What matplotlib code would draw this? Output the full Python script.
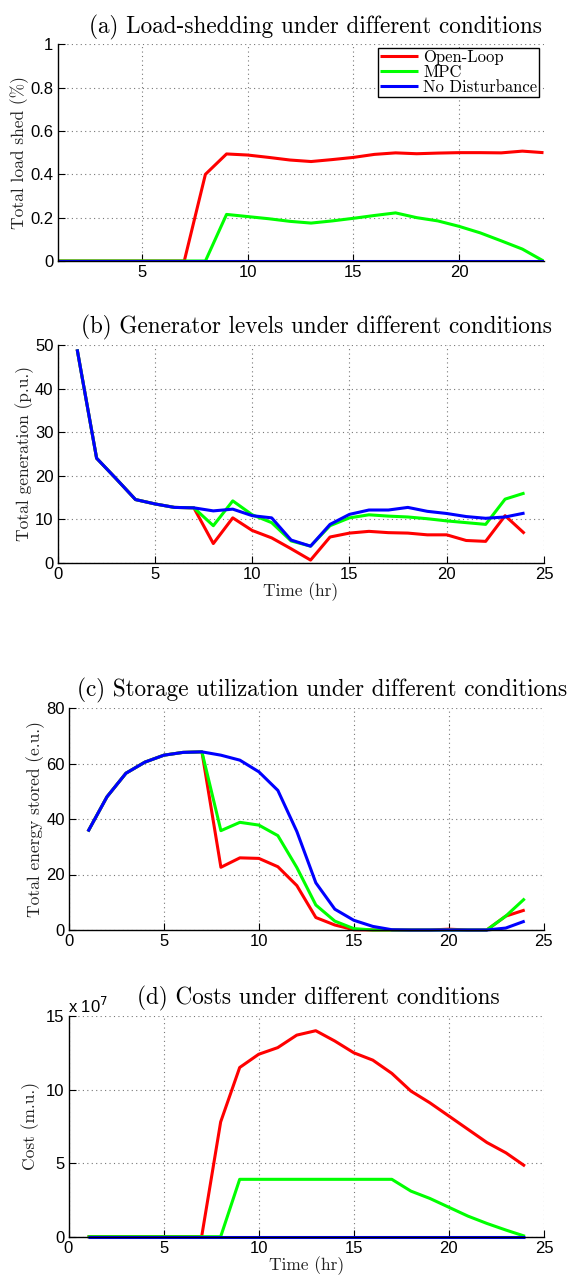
import matplotlib
matplotlib.use("Agg")
import matplotlib.pyplot as plt
import numpy as np

# ---------------- data ----------------
hours = list(range(1, 25))

# (a) load shed (%)
shed_open = [0, 0, 0, 0, 0, 0, 0, 0.40, 0.494, 0.489, 0.478, 0.466, 0.459, 0.468, 0.478,
             0.492, 0.499, 0.495, 0.498, 0.500, 0.500, 0.499, 0.507, 0.500]
shed_mpc = [0, 0, 0, 0, 0, 0, 0, 0, 0.215, 0.205, 0.195, 0.183, 0.175, 0.185, 0.197,
            0.210, 0.222, 0.200, 0.185, 0.160, 0.130, 0.093, 0.055, 0.0]
shed_nodist = [0] * 24

# (b) total generation (p.u.)
gen_open = [49.0, 24.0, 19.3, 14.5, 13.5, 12.7, 12.6, 4.4, 10.3, 7.4, 5.7, 3.2, 0.6, 5.9,
            6.8, 7.2, 6.9, 6.8, 6.4, 6.4, 5.1, 4.9, 10.8, 6.7]
gen_mpc = [49.0, 24.0, 19.3, 14.5, 13.5, 12.7, 12.6, 8.5, 14.2, 11.0, 9.2, 5.0, 3.8, 8.5,
           10.3, 11.0, 10.7, 10.5, 10.1, 9.6, 9.2, 8.8, 14.6, 16.0]
gen_nodist = [49.0, 24.0, 19.3, 14.5, 13.5, 12.7, 12.6, 11.9, 12.3, 10.8, 10.3, 5.2, 3.8,
              8.8, 11.1, 12.1, 12.1, 12.7, 11.8, 11.3, 10.6, 10.2, 10.5, 11.4]

# (c) total energy stored (e.u.)
sto_open = [35.5, 48.0, 56.5, 60.5, 63.0, 64.0, 64.2, 22.6, 26.0, 25.8, 22.8, 16.0, 4.5,
            1.8, 0.1, 0, 0, 0, 0, 0.3, 0, 0, 5.0, 7.2]
sto_mpc = [35.5, 48.0, 56.5, 60.5, 63.0, 64.0, 64.2, 35.8, 38.8, 37.8, 34.0, 22.5, 9.0,
           3.2, 0.5, 0, 0, 0, 0, 0, 0, 0, 5.0, 11.3]
sto_nodist = [35.5, 48.0, 56.5, 60.5, 63.0, 64.0, 64.2, 63.0, 61.2, 57.0, 50.3, 35.5, 17.0,
              7.5, 3.5, 1.3, 0.1, 0, 0, 0, 0, 0, 0.7, 3.2]

# (d) cost (m.u., in units of 1e7)
cost_open = [0, 0, 0, 0, 0, 0, 0, 7.8, 11.5, 12.4, 12.85, 13.7, 14.0, 13.3, 12.5, 12.0,
             11.1, 9.9, 9.1, 8.2, 7.3, 6.4, 5.7, 4.8]
cost_mpc = [0, 0, 0, 0, 0, 0, 0, 0, 3.9, 3.9, 3.9, 3.9, 3.9, 3.9, 3.9, 3.9, 3.9, 3.1, 2.6,
            2.0, 1.4, 0.9, 0.45, 0.03]
cost_nodist = [0] * 24

series_names = ["Open-Loop", "MPC", "No Disturbance"]
series_colors = ["#ff0000", "#00ff00", "#0000ff"]

titles = ["(a) Load-shedding under different conditions",
          "(b) Generator levels under different conditions",
          "(c) Storage utilization under different conditions",
          "(d) Costs under different conditions"]
ylabels = ["Total load shed (%)", "Total generation (p.u.)",
           "Total energy stored (e.u.)", "Cost (m.u.)"]

# ---------------- figure ----------------
W, H = 576, 1275
fig = plt.figure(figsize=(W / 100, H / 100), dpi=100)

serif = "cmr10"
tickfont = "Liberation Sans"


def px_axes(left, top, right, bottom):
    return fig.add_axes([left / W, 1 - bottom / H, (right - left) / W, (bottom - top) / H])


axes = [px_axes(57.5, 44.3, 543.5, 261),
        px_axes(57.7, 345, 544, 562.7),
        px_axes(69, 708, 543.7, 930),
        px_axes(68.5, 1016, 544, 1236.7)]

data = [(shed_open, shed_mpc, shed_nodist),
        (gen_open, gen_mpc, gen_nodist),
        (sto_open, sto_mpc, sto_nodist),
        (cost_open, cost_mpc, cost_nodist)]

xlims = [(1, 24), (0, 25), (0, 25), (0, 25)]
ylims = [(0, 1), (0, 50), (0, 80), (0, 15)]
xticks = [[5, 10, 15, 20], [0, 5, 10, 15, 20, 25], [0, 5, 10, 15, 20, 25], [0, 5, 10, 15, 20, 25]]
yticks = [[0, 0.2, 0.4, 0.6, 0.8, 1], [0, 10, 20, 30, 40, 50], [0, 20, 40, 60, 80], [0, 5, 10, 15]]
yticklabels = [["0", "0.2", "0.4", "0.6", "0.8", "1"], None, None, None]
title_x = [0.53, 0.533, 0.534, 0.525]
ylabel_pad = [1, 1, 1, 4]

for i, ax in enumerate(axes):
    for vals, name, col in zip(data[i], series_names, series_colors):
        ax.plot(hours, vals, color=col, lw=2.2, label=name, solid_capstyle="butt",
                clip_on=False if i != 0 else True)
    ax.set_xlim(*xlims[i])
    ax.set_ylim(*ylims[i])
    ax.set_xticks(xticks[i])
    ax.set_yticks(yticks[i])
    if yticklabels[i] is not None:
        ax.set_yticklabels(yticklabels[i])
    ax.grid(True, linestyle=(0, (1, 3)), color="#777777", linewidth=0.8)
    ax.set_axisbelow(True)
    ax.spines["top"].set_visible(False)
    ax.spines["right"].set_visible(False)
    ax.spines["left"].set_linewidth(1.0)
    ax.spines["bottom"].set_linewidth(1.0)
    ax.tick_params(direction="in", length=5, width=0.8, pad=3, labelsize=12)
    for lbl in ax.get_xticklabels() + ax.get_yticklabels():
        lbl.set_fontfamily(tickfont)
    ax.set_title(titles[i], fontfamily=serif, fontsize=16.7, x=title_x[i], pad=8)
    ax.set_ylabel(ylabels[i], fontfamily=serif, fontsize=12.5, color="#222222",
                  labelpad=ylabel_pad[i])

axes[1].set_xlabel("Time (hr)", fontfamily=serif, fontsize=12.5, labelpad=0, color="#222222")
axes[3].set_xlabel("Time (hr)", fontfamily=serif, fontsize=12.5, labelpad=0, color="#222222")

# exponent label for cost axis
axes[3].text(0.0, 1.0, r"x 10$^7$", transform=axes[3].transAxes, ha="left", va="bottom",
             fontsize=12, fontfamily=tickfont)

leg = axes[0].legend(loc="upper right", bbox_to_anchor=(0.991, 0.985), frameon=True,
                     fancybox=False, edgecolor="black", framealpha=1,
                     prop={"family": serif, "size": 12}, handlelength=2.3,
                     handletextpad=0.3, borderpad=0.1, labelspacing=0.0,
                     borderaxespad=0)
leg.get_frame().set_linewidth(1.0)

fig.savefig("out.png", dpi=100)
